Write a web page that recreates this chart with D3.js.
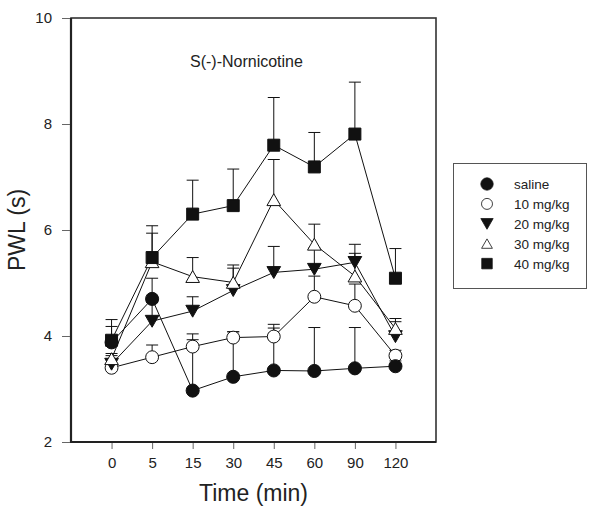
<!DOCTYPE html>
<html>
<head>
<meta charset="utf-8">
<script src="https://cdn.jsdelivr.net/npm/d3@7"></script>
<style>
  html, body { margin: 0; padding: 0; background: #fff; }
  svg { display: block; font-family: "Liberation Sans", Arial, sans-serif; }
</style>
</head>
<body>
<svg id="chart" width="598" height="506"></svg>
<script>
// Time points after injection (categorical axis)
const times = ["0", "5", "15", "30", "45", "60", "90", "120"];
const yTicks = [2, 4, 6, 8, 10];

// Mean paw-withdrawal latency (s) per group
const saline = [3.88, 4.70, 2.97, 3.23, 3.35, 3.34, 3.39, 3.43];
const mg10   = [3.40, 3.60, 3.80, 3.97, 3.99, 4.74, 4.57, 3.63];
const mg20   = [3.47, 4.28, 4.47, 4.86, 5.20, 5.26, 5.39, 3.99];
const mg30   = [3.57, 5.40, 5.12, 5.01, 6.57, 5.73, 5.13, 4.14];
const mg40   = [3.92, 5.48, 6.30, 6.46, 7.60, 7.19, 7.81, 5.09];

// Standard error (upper bars only)
const salineSE = [0.30, 0.39, 0.96, 0.85, 0.80, 0.82, 0.77, 0.10];
const mg10SE   = [0.08, 0.23, 0.24, 0.11, 0.23, 0.39, 0.41, 0.10];
const mg20SE   = [0.16, 0.35, 0.27, 0.42, 0.49, 0.40, 0.34, 0.28];
const mg30SE   = [0.10, 0.54, 0.36, 0.33, 0.76, 0.38, 0.43, 0.19];
const mg40SE   = [0.39, 0.60, 0.64, 0.69, 0.90, 0.65, 0.98, 0.56];

const seriesNames = ["saline", "10 mg/kg", "20 mg/kg", "30 mg/kg", "40 mg/kg"];

const svg = d3.select("#chart");
const plot = { left: 71, right: 436, top: 18, bottom: 442 };

const x = d3.scaleLinear().domain([-1, times.length]).range([plot.left, plot.right]);
const y = d3.scaleLinear().domain([2, 10]).range([plot.bottom, plot.top]);

const ink = "#111";

// Symbol generators
const downTri = {
  draw(ctx, size) {
    const s = Math.sqrt(size);
    ctx.moveTo(-s * 0.54, -s * 0.46);
    ctx.lineTo(s * 0.54, -s * 0.46);
    ctx.lineTo(0, s * 0.48);
    ctx.closePath();
  }
};
const upTri = {
  draw(ctx, size) {
    const s = Math.sqrt(size);
    ctx.moveTo(-s * 0.54, s * 0.46);
    ctx.lineTo(s * 0.54, s * 0.46);
    ctx.lineTo(0, -s * 0.48);
    ctx.closePath();
  }
};

const series = [
  { name: seriesNames[1], values: mg10,   se: mg10SE,   type: d3.symbolCircle, size: 130, fill: "#fff" },
  { name: seriesNames[2], values: mg20,   se: mg20SE,   type: downTri,         size: 160, fill: ink },
  { name: seriesNames[3], values: mg30,   se: mg30SE,   type: upTri,           size: 160, fill: "#fff" },
  { name: seriesNames[4], values: mg40,   se: mg40SE,   type: d3.symbolSquare, size: 144, fill: ink },
  { name: seriesNames[0], values: saline, se: salineSE, type: d3.symbolCircle, size: 135, fill: ink }
];

// Title inside the plot
svg.append("text")
  .attr("x", 190).attr("y", 67)
  .attr("font-size", 16).attr("fill", "#222")
  .text("S(-)-Nornicotine");

// Connecting lines
const line = d3.line().x((d, i) => x(i)).y(d => y(d));
series.forEach(s => {
  svg.append("path")
    .attr("d", line(s.values))
    .attr("fill", "none").attr("stroke", ink).attr("stroke-width", 1);
});

// Error bars (upper)
series.forEach(s => {
  const g = svg.append("g").attr("stroke", ink).attr("stroke-width", 1);
  s.values.forEach((v, i) => {
    const top = y(v + s.se[i]);
    g.append("line").attr("x1", x(i)).attr("x2", x(i)).attr("y1", y(v)).attr("y2", top);
    g.append("line").attr("x1", x(i) - 6).attr("x2", x(i) + 6).attr("y1", top).attr("y2", top);
  });
});

// Markers
series.forEach(s => {
  const sym = d3.symbol().type(s.type).size(s.size);
  svg.append("g").selectAll("path").data(s.values).join("path")
    .attr("transform", (d, i) => `translate(${x(i)},${y(d)})`)
    .attr("d", sym())
    .attr("fill", s.fill).attr("stroke", ink).attr("stroke-width", 1);
});

// Frame
svg.append("rect")
  .attr("x", plot.left).attr("y", plot.top)
  .attr("width", plot.right - plot.left).attr("height", plot.bottom - plot.top)
  .attr("fill", "none").attr("stroke", "#333").attr("stroke-width", 1.6);
svg.append("line").attr("x1", plot.left).attr("x2", plot.left)
  .attr("y1", plot.top).attr("y2", plot.bottom + 1).attr("stroke", "#222").attr("stroke-width", 2.2);
svg.append("line").attr("x1", plot.left).attr("x2", plot.right)
  .attr("y1", plot.bottom).attr("y2", plot.bottom).attr("stroke", "#222").attr("stroke-width", 2.2);

// Y axis
const yAxis = d3.axisLeft(y).tickValues(yTicks).tickSize(8).tickPadding(10).tickFormat(d3.format("d"));
const gy = svg.append("g").attr("transform", `translate(${plot.left - 1},0)`).call(yAxis);
gy.select(".domain").remove();
gy.selectAll(".tick line").attr("stroke", "#666");
gy.selectAll(".tick text").attr("font-size", 15).attr("fill", "#222")
  .attr("font-family", "Liberation Sans, Arial, sans-serif");

// X axis
const xAxis = d3.axisBottom(x).tickValues(d3.range(times.length)).tickSize(6).tickPadding(8)
  .tickFormat(i => times[i]);
const gx = svg.append("g").attr("transform", `translate(0,${plot.bottom + 1})`).call(xAxis);
gx.select(".domain").remove();
gx.selectAll(".tick line").attr("stroke", "#666");
gx.selectAll(".tick text").attr("font-size", 15).attr("fill", "#222")
  .attr("font-family", "Liberation Sans, Arial, sans-serif");

// Axis titles
svg.append("text")
  .attr("x", (plot.left + plot.right) / 2).attr("y", 501)
  .attr("text-anchor", "middle").attr("font-size", 23).attr("fill", "#222")
  .text("Time (min)");
svg.append("text")
  .attr("transform", `translate(25,230) rotate(-90)`)
  .attr("text-anchor", "middle").attr("font-size", 23).attr("fill", "#222")
  .text("PWL (s)");

// Legend
const legend = svg.append("g");
legend.append("rect")
  .attr("x", 453.5).attr("y", 163.5).attr("width", 133).attr("height", 125)
  .attr("fill", "#fff").attr("stroke", "#555").attr("stroke-width", 1);
const legendItems = [
  { name: seriesNames[0], type: d3.symbolCircle, size: 120, fill: ink },
  { name: seriesNames[1], type: d3.symbolCircle, size: 95,  fill: "#fff" },
  { name: seriesNames[2], type: downTri,         size: 130, fill: ink },
  { name: seriesNames[3], type: upTri,           size: 100, fill: "#fff" },
  { name: seriesNames[4], type: d3.symbolSquare, size: 110, fill: ink }
];
legendItems.forEach((it, i) => {
  const cy = 184 + i * 19.9;
  legend.append("path")
    .attr("transform", `translate(487,${cy})`)
    .attr("d", d3.symbol().type(it.type).size(it.size)())
    .attr("fill", it.fill).attr("stroke", ink).attr("stroke-width", 0.8);
  legend.append("text")
    .attr("x", 514).attr("y", cy + 5)
    .attr("font-size", 13.5).attr("fill", "#222")
    .text(it.name);
});
</script>
</body>
</html>
